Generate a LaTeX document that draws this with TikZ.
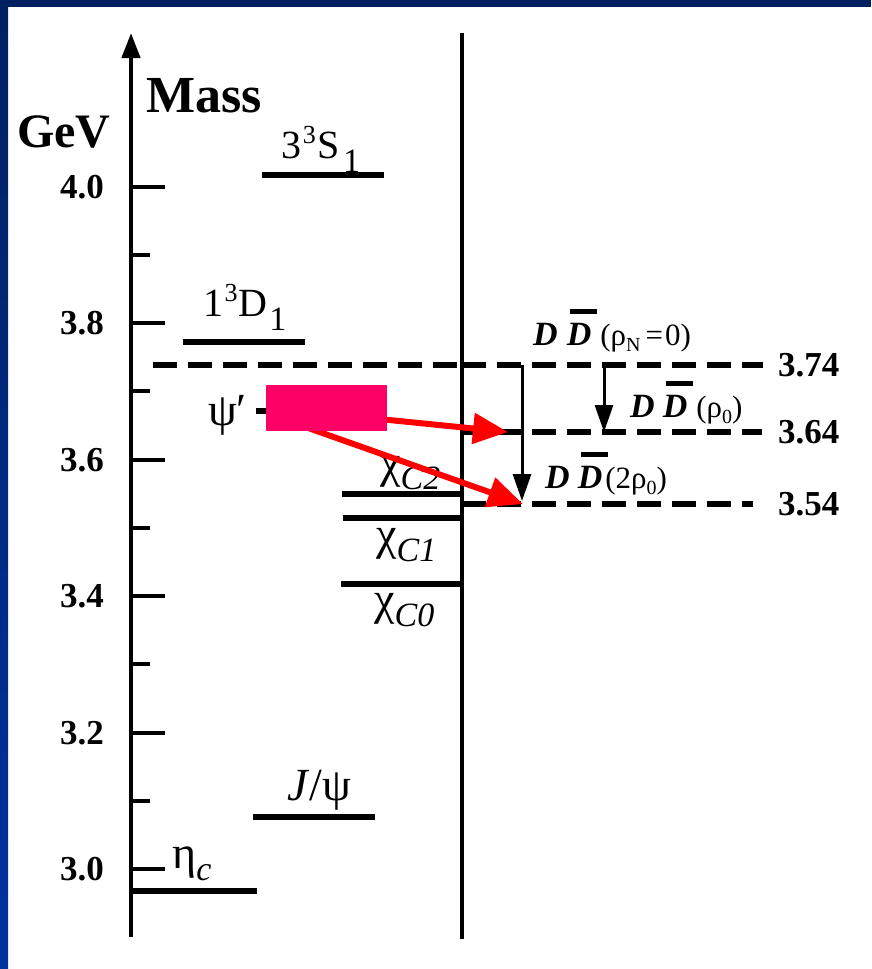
\documentclass[tikz,border=0pt]{standalone}
\usepackage{fontspec}
\setmainfont{Liberation Serif}
\usepackage{xcolor}
\usepackage{tikz}
\usetikzlibrary{arrows.meta, calc}
\definecolor{frame}{HTML}{002060}
\definecolor{framelight}{HTML}{0033A0}
\definecolor{decayred}{HTML}{FF0000}
\definecolor{psibox}{HTML}{FF0066}
\newcommand{\hisup}[1]{\raisebox{0.36em}{\fontsize{26}{26}\selectfont #1}}
\newcommand{\losub}[1]{\raisebox{-0.36em}{\fontsize{34}{34}\selectfont #1}}
\newcommand{\gsub}[1]{\raisebox{-0.28em}{\fontsize{34}{34}\selectfont\itshape #1}}
\newcommand{\ddsub}[1]{\raisebox{-0.22em}{\fontsize{20}{20}\selectfont #1}}
\newcommand{\Dbf}{\textbf{\textit{D}}}
\newcommand{\Dbar}{\rlap{\kern0.1em\raisebox{0.92em}{\rule{0.8em}{0.14em}}}\Dbf}
\tikzset{
  axisline/.style   = {line width=4.5pt, black},
  lvl/.style        = {line width=6pt, black},
  threshold/.style  = {line width=6pt, black, dash pattern=on 24pt off 11pt},
  ddarrow/.style    = {line width=3pt, black, -{Triangle[length=27pt,width=18pt]}},
  decayarrow/.style = {line width=6pt, decayred, -{Triangle[length=35pt,width=30pt]}},
  ticklabel/.style  = {inner sep=0pt, font=\fontsize{35}{35}\selectfont\bfseries},
  statelabel/.style = {inner sep=0pt, anchor=base, font=\fontsize{40}{40}\selectfont},
  greeklabel/.style = {inner sep=0pt, anchor=base west, font=\fontsize{46}{46}\selectfont},
  ddlabel/.style    = {inner sep=0pt, anchor=base west, font=\fontsize{34}{34}\selectfont},
}

\begin{document}
\begin{tikzpicture}[x=1pt, y=-1pt]
  \useasboundingbox (0,0) rectangle (871,969);

  % ----- slide frame -----
  \fill[white] (0,0) rectangle (871,969);
  \fill[frame] (0,0) rectangle (871,7);
  \shade[top color=frame, bottom color=framelight] (0,7) rectangle (8,969);

  % ----- mass axis -----
  \coordinate (axbot) at (131,937);
  \coordinate (axtop) at (131,33);
  \draw[axisline, -{Triangle[length=25pt,width=18pt]}] (axbot) -- (axtop);
  \foreach \y/\lab [count=\i] in {187/4.0, 323/3.8, 460/3.6, 596/3.4, 733/3.2, 869/3.0}
     {\draw[axisline] (131,\y) -- (165,\y);
      \node[ticklabel, anchor=east] (tick\i) at (104,\y) {\lab};}
  \foreach \y in {255, 391, 528, 664, 801}
     {\draw[axisline] (131,\y) -- (150,\y);}
  \node[inner sep=0pt, anchor=base west, font=\fontsize{52}{52}\selectfont\bfseries] (mass) at (146,112) {Mass};
  \node[inner sep=0pt, anchor=base west, font=\fontsize{48}{48}\selectfont\bfseries] (gev) at (17,147) {GeV};

  % ----- open charm line -----
  \coordinate (walltop) at (462,33);
  \coordinate (wallbot) at (462,939);
  \draw[axisline] (wallbot) -- (walltop);

  % ----- charmonium levels -----
  \draw[lvl] (262,175) -- (384,175);
  \node[statelabel] (s33) at (321,158) {3\kern1pt\hisup{3}\kern2pt S\kern3pt\losub{1}};
  \draw[lvl] (183,342) -- (305,342);
  \node[statelabel] (d13) at (245,316) {1\kern1pt\hisup{3}\kern1pt D\kern2pt\losub{1}};
  \draw[lvl] (256,411) -- (380,411);
  \node[greeklabel] (psip) at (208,425) {ψ′};
  \draw[lvl] (342,494) -- (462,494);
  \draw[lvl] (343,518) -- (462,518);
  \draw[lvl] (341,584) -- (462,584);
  \node[greeklabel] (chic1) at (376,549) {χ\gsub{C1}};
  \node[greeklabel] (chic0) at (374,614) {χ\gsub{C0}};
  \node[greeklabel] (chic2) at (380,477) {χ\gsub{C2}};
  \draw[lvl] (253,817) -- (375,817);
  \node[greeklabel] (jpsi) at (287,800) {\textit{J}/ψ};
  \draw[lvl] (131,891) -- (257,891);
  \node[greeklabel] (etac) at (172,868) {η\gsub{c}};

  % ----- D Dbar thresholds -----
  \draw[threshold] (153,365) -- (462,365);
  \draw[threshold] (462,365) -- (763,365);
  \draw[threshold] (462,432) -- (762,432);
  \draw[threshold] (462,504) -- (753,504);
  \node[ticklabel, anchor=west] (th374) at (778,365) {3.74};
  \node[ticklabel, anchor=west] (th364) at (778,432) {3.64};
  \node[ticklabel, anchor=west] (th354) at (778,504) {3.54};
  \node[ddlabel] (dd0) at (533,345)
     {\Dbf\kern9pt\Dbar\kern9pt{\fontsize{31}{31}\selectfont(ρ\ddsub{N}\kern5pt=\kern2pt0)}};
  \node[ddlabel] (dd1) at (630,417)
     {\Dbf\kern8pt\Dbar\kern9pt{\fontsize{31}{31}\selectfont(ρ\ddsub{0})}};
  \node[ddlabel] (dd2) at (545,488)
     {\Dbf\kern8pt\Dbar\kern3pt{\fontsize{31}{31}\selectfont(2ρ\ddsub{0})}};

  \coordinate (a74) at (522,365);
  \coordinate (a54) at (522,501);
  \coordinate (b74) at (604,365);
  \coordinate (b64) at (604,432);
  \draw[ddarrow] (a74) -- (a54);
  \draw[ddarrow] (b74) -- (b64);

  % ----- psi' decays -----
  \coordinate (psiA) at (300,411);
  \coordinate (psiB) at (280,418);
  \coordinate (hit64) at (508,432);
  \coordinate (hit54) at (523,504);
  \draw[decayarrow] (psiA) -- (hit64);
  \draw[decayarrow] (psiB) -- (hit54);
  \node[fill=psibox, inner sep=0pt, minimum width=121pt, minimum height=46pt] (psimark) at (326.5,408) {};

\end{tikzpicture}
\end{document}
